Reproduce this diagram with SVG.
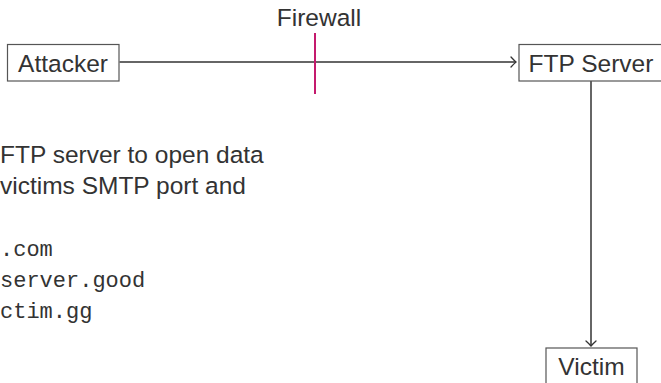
<svg xmlns="http://www.w3.org/2000/svg" width="661" height="383" viewBox="0 0 661 383">
  <style>
    .box { fill: #ffffff; stroke: #555555; stroke-width: 1.2; }
    .lbl { font-family: "Liberation Sans", Arial, sans-serif; font-size: 24.5px; fill: #333333; }
    .mono { font-family: "Liberation Mono", "Courier New", monospace; font-size: 22px; fill: #333333; }
    .edge { stroke: #333333; stroke-width: 1.5; fill: none; }
  </style>
  <defs>
    <marker id="arr" markerUnits="userSpaceOnUse" markerWidth="12" markerHeight="12" refX="0" refY="0" viewBox="-8 -6 10 12" orient="auto" overflow="visible">
      <path d="M -5 -5 Q -1.5 -1.2 0 0 Q -1.5 1.2 -5 5" fill="none" stroke="#333333" stroke-width="1.3" stroke-linecap="round"/>
    </marker>
  </defs>
  <rect width="661" height="383" fill="#ffffff"/>

  <g id="connectors">
    <line class="edge" x1="119.5" y1="62" x2="516" y2="62" marker-end="url(#arr)"/>
    <line class="edge" x1="591" y1="81" x2="591" y2="346" marker-end="url(#arr)"/>
  </g>

  <g id="firewall">
    <text class="lbl" x="319" y="26" text-anchor="middle">Firewall</text>
    <line x1="315" y1="33" x2="315" y2="94" stroke="#c41a6d" stroke-width="2"/>
  </g>

  <g id="attacker">
    <rect class="box" x="7.5" y="44.5" width="111.5" height="36.5"/>
    <text class="lbl" x="63" y="72" text-anchor="middle">Attacker</text>
  </g>

  <g id="ftp-server">
    <rect class="box" x="519" y="44.5" width="144" height="36.5"/>
    <text class="lbl" x="591" y="72" text-anchor="middle">FTP Server</text>
  </g>

  <g id="victim">
    <rect class="box" x="546" y="348" width="91" height="38"/>
    <text class="lbl" x="591.5" y="375" text-anchor="middle">Victim</text>
  </g>

  <g id="description">
    <text class="lbl" x="0" y="163">FTP server to open data</text>
    <text class="lbl" x="0" y="194">victims SMTP port and</text>
    <text class="mono" x="0" y="256">.com</text>
    <text class="mono" x="0" y="287">server.good</text>
    <text class="mono" x="0" y="318">ctim.gg</text>
  </g>
</svg>
